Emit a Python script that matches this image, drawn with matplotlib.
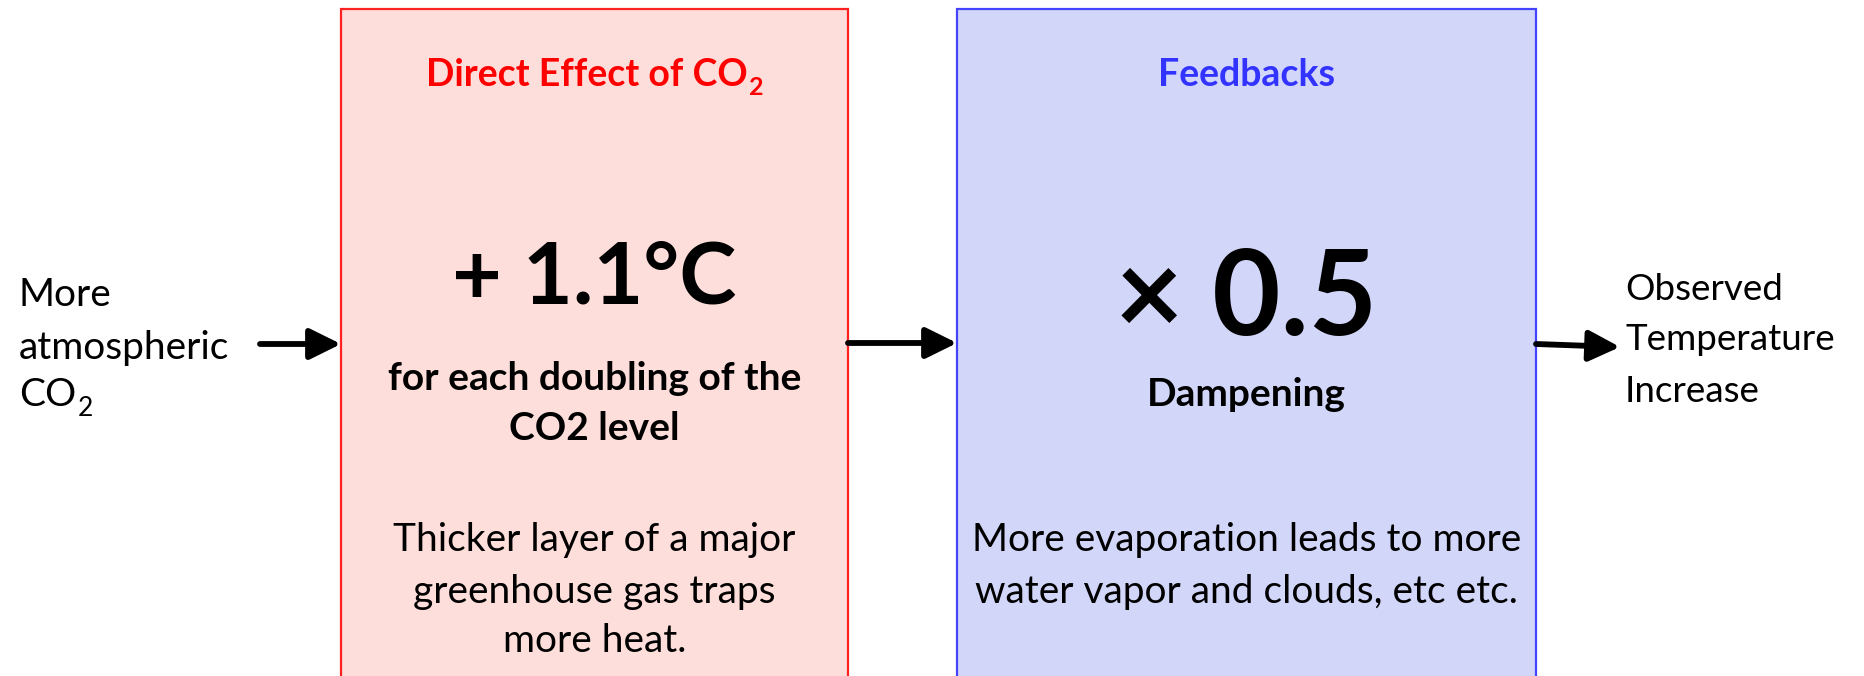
import matplotlib;matplotlib.use("Agg")
import matplotlib.pyplot as plt
from matplotlib.patches import Rectangle
plt.rcParams["font.family"]=["Lato","DejaVu Sans"]

# diagram content
left_label=["More","atmospheric","CO"]
right_label=["Observed","Temperature","Increase"]
titles=["Direct Effect of CO","Feedbacks"]
title_colors=["#ff0000","#3333ff"]
big_values=["+ 1.1°C","× 0.5"]
sub_bold=[["for each doubling of the","CO2 level"],["Dampening"]]
notes=[["Thicker layer of a major","greenhouse gas traps","more heat."],
       ["More evaporation leads to more","water vapor and clouds, etc etc."]]
box_fill=["#fddedb","#d2d7fa"]
box_edge=["#ff2020","#4444ff"]

W,H=1864,676
fig=plt.figure(figsize=(W/100,H/100),dpi=100)
ax=fig.add_axes([0,0,1,1]);ax.set_xlim(0,W);ax.set_ylim(H,0);ax.axis("off")

boxes=[(341,848),(957,1536)]
big_sizes=[62,85]
for i,(x0,x1) in enumerate(boxes):
    ax.add_patch(Rectangle((x0,9),x1-x0,720,fc=box_fill[i],ec=box_edge[i],lw=1.6))
    cx=(x0+x1)/2
    t=ax.text(cx-(8 if i==0 else 0),72,titles[i],color=title_colors[i],fontsize=27,fontweight="bold",ha="center",va="center_baseline")
    if i==0:
        ax.annotate("2",xy=(1,0),xycoords=t,xytext=(1,-2),textcoords="offset points",color=title_colors[i],fontsize=18,fontweight="bold",va="baseline",ha="left")
    ax.text(cx,272 if i==0 else 291,big_values[i],fontsize=big_sizes[i],fontweight="bold",ha="center",va="center_baseline")
    ys=[376,426] if i==0 else [391]
    for y,s in zip(ys,sub_bold[i]):
        ax.text(cx,y,s,fontsize=28,fontweight="bold",ha="center",va="center_baseline")
    for y,s in zip([537,589,638],notes[i]):
        ax.text(cx,y,s,fontsize=28,ha="center",va="center_baseline")

for y,s in zip([291,345,392],left_label):
    t=ax.text(19,y,s,fontsize=28,ha="left",va="center_baseline")
ax.annotate("2",xy=(1,0),xycoords=t,xytext=(1,-2),textcoords="offset points",fontsize=19,va="baseline",ha="left")
for y,s in zip([287,337,388],right_label):
    ax.text(1625,y,s,fontsize=26.5,ha="left",va="center_baseline")

arrows=[((260,344),(341,344)),((848,343),(957,343)),((1536,344),(1620,347))]
for a,b in arrows:
    ax.annotate("",xy=b,xytext=a,arrowprops=dict(arrowstyle="-|>,head_length=0.95,head_width=0.47",
        lw=4.2,color="k",shrinkA=0,shrinkB=0,mutation_scale=20))

fig.savefig("out.png",dpi=100)
